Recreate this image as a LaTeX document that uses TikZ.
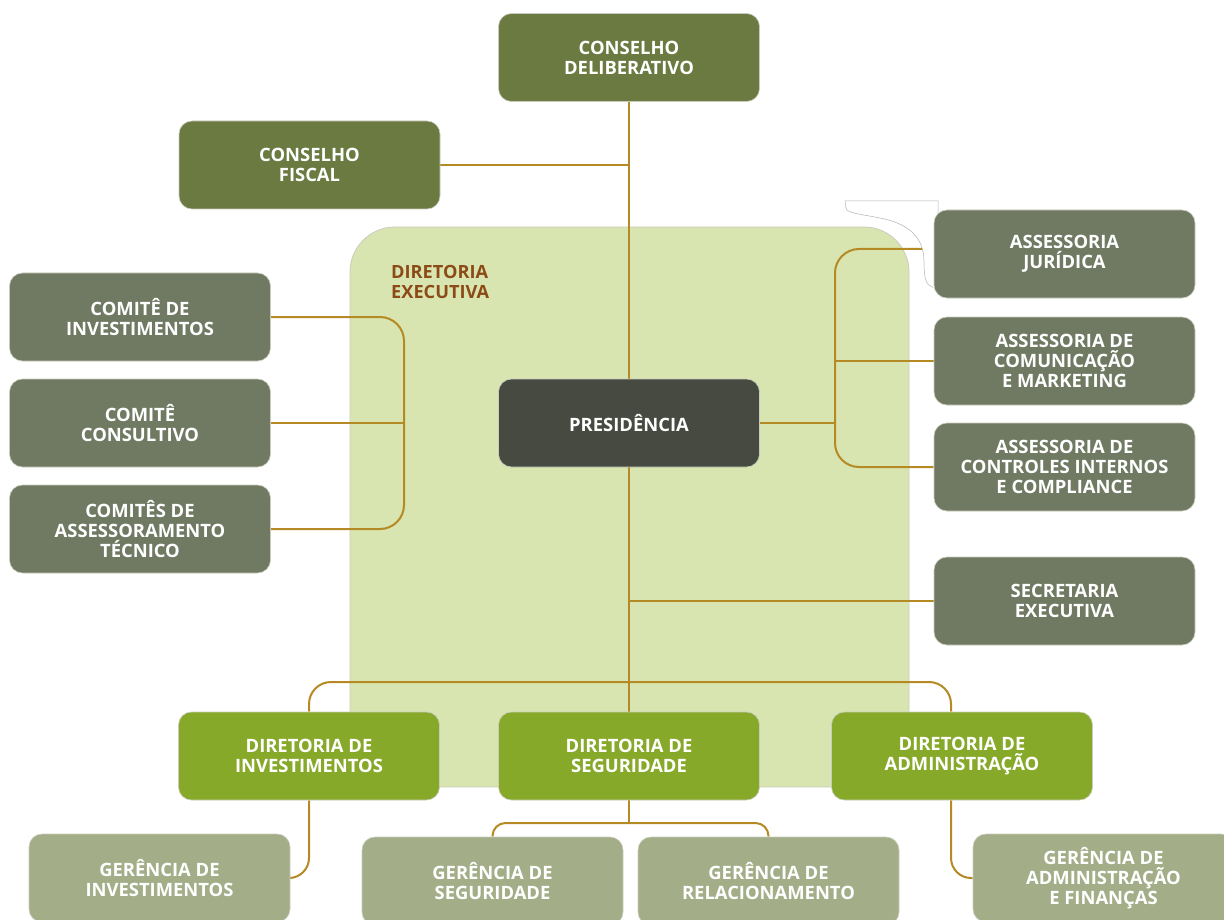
\documentclass[tikz,border=0pt]{standalone}
\usepackage{fontspec}
\setmainfont{Open Sans}
\definecolor{consC}{HTML}{6A7A41}
\definecolor{assC}{HTML}{707A63}
\definecolor{presC}{HTML}{474A40}
\definecolor{dirC}{HTML}{87A92A}
\definecolor{gerC}{HTML}{A3AE88}
\definecolor{bgC}{HTML}{D9E5B0}
\definecolor{lblC}{HTML}{8C4A16}
\definecolor{lineC}{HTML}{B58A24}
\definecolor{edgeC}{HTML}{C9CCBC}
\pgfdeclarelayer{bgzero}
\pgfdeclarelayer{bgone}
\pgfdeclarelayer{bgtwo}
\pgfsetlayers{bgzero,bgone,bgtwo,main}
\tikzset{
  box/.style={rounded corners=13pt, minimum width=261pt, minimum height=88pt, inner sep=0pt,
    align=center, text=white, font=\fontsize{18.4}{20}\selectfont\bfseries, draw=edgeC, line width=0.6pt},
  consbox/.style={box, fill=consC},
  assbox/.style={box, fill=assC},
  presbox/.style={box, fill=presC},
  dirbox/.style={box, fill=dirC},
  gerbox/.style={box, fill=gerC},
  conn/.style={draw=lineC, line width=2pt},
}
\begin{document}
\begin{tikzpicture}[x=1pt,y=-1pt]
\useasboundingbox (0,0) rectangle (1224,920);
\clip (0,0) rectangle (1224,920);

% coordinates for connector geometry
\coordinate (lbx) at (404,423);
\coordinate (rbx) at (835,423);
\coordinate (hy) at (629,682);
\coordinate (sy) at (629,823);

% nodes
\node[consbox] (cd) at (629,57.5) {CONSELHO\\DELIBERATIVO};
\node[consbox] (cf) at (309.5,165) {CONSELHO\\FISCAL};
\node[assbox] (ci) at (140,317) {COMITÊ DE\\INVESTIMENTOS};
\node[assbox] (cc) at (140,423) {COMITÊ\\CONSULTIVO};
\node[assbox] (cat) at (140,529) {COMITÊS DE\\ASSESSORAMENTO\\TÉCNICO};
\node[assbox] (aj) at (1064.5,254) {ASSESSORIA\\JURÍDICA};
\node[assbox] (acm) at (1064.5,361) {ASSESSORIA DE\\COMUNICAÇÃO\\E MARKETING};
\node[assbox] (aci) at (1064.5,467) {ASSESSORIA DE\\CONTROLES INTERNOS\\E COMPLIANCE};
\node[assbox] (se) at (1064.5,601) {SECRETARIA\\EXECUTIVA};
\node[presbox] (pr) at (629,423) {PRESIDÊNCIA};
\node[dirbox] (di) at (309,756) {DIRETORIA DE\\INVESTIMENTOS};
\node[dirbox] (ds) at (629,756) {DIRETORIA DE\\SEGURIDADE};
\node[dirbox] (da) at (962,756) {DIRETORIA DE\\ADMINISTRAÇÃO};
\node[gerbox] (gi) at (159.5,878) {GERÊNCIA DE\\INVESTIMENTOS};
\node[gerbox] (gs) at (492.5,881) {GERÊNCIA DE\\SEGURIDADE};
\node[gerbox] (gr) at (768.5,881) {GERÊNCIA DE\\RELACIONAMENTO};
\node[gerbox] (ga) at (1103.5,878) {GERÊNCIA DE\\ADMINISTRAÇÃO\\E FINANÇAS};

% Diretoria executiva background
\begin{pgfonlayer}{bgzero}
\path[fill=bgC, draw=edgeC, line width=0.8pt] (350,787) [rounded corners=45pt] -- (350,227) -- (909,227) [sharp corners] -- (909,787) -- cycle;
\node[anchor=north west, inner sep=0pt, align=left, text=lblC, font=\fontsize{18.2}{20}\selectfont\bfseries] (lbl) at (391,265) {DIRETORIA\\EXECUTIVA};
\end{pgfonlayer}

% connectors
\begin{pgfonlayer}{bgone}
\draw[conn] (cd.south) -- (ds.north);
\draw[conn] (cf.east) -- (cf.east -| cd.south);
\draw[conn, rounded corners=24pt] (ci.east) -- (ci.east -| lbx) -- (cat.east -| lbx) -- (cat.east);
\draw[conn] (cc.east) -- (lbx);
\draw[conn, rounded corners=24pt] ([yshift=5pt]aj.west) -- ([yshift=5pt]aj.west -| rbx) -- (aci.west -| rbx) -- (aci.west);
\draw[conn] (acm.west) -- (acm.west -| rbx);
\draw[conn] (pr.east) -- (rbx);
\draw[conn] (se.west) -- (se.west -| pr.south);
\draw[conn, rounded corners=22pt] (di.north) -- (di.north |- hy) -- ([xshift=-11pt]da.north |- hy) -- ([xshift=-11pt]da.north);
\draw[conn, rounded corners=20pt] (di.south) -- (di.south |- gi.east) -- (gi.east);
\draw[conn, rounded corners=20pt] ([xshift=-11pt]da.south) -- ([xshift=-11pt]da.south |- ga.west) -- (ga.west);
\draw[conn] (ds.south) -- (sy);
\draw[conn, rounded corners=13pt] (gs.north) -- (gs.north |- sy) -- (gr.north |- sy) -- (gr.north);
\end{pgfonlayer}

% white overlay shape near Assessoria Juridica
\begin{pgfonlayer}{bgtwo}
\path[fill=white, draw=gray!60, line width=0.5pt] (845,201) -- (938,201) -- (938,287) -- (932,287)
  .. controls (926,285) and (924,278) .. (924,262)
  .. controls (924,238) and (910,224) .. (880,218)
  .. controls (860,214) and (846,213) .. (846,208) -- cycle;
\end{pgfonlayer}
\end{tikzpicture}
\end{document}
